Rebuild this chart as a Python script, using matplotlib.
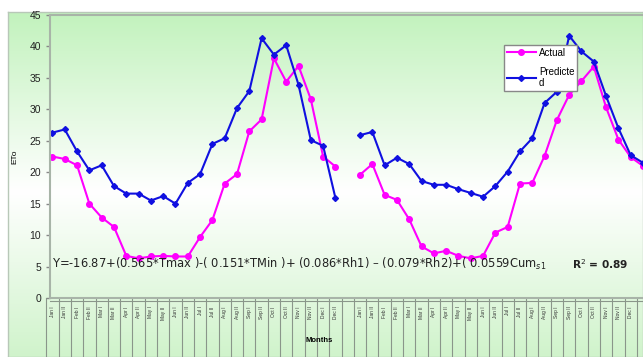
import numpy as np
import matplotlib.pyplot as plt
import matplotlib.transforms as mtransforms

plt.rcParams['font.family'] = ['Liberation Sans', 'DejaVu Sans']

# fortnightly categories, two series blocks separated by one empty slot
months = ['Jan', 'Feb', 'Mar', 'Apr', 'May', 'Jun',
          'Jul', 'Aug', 'Sep', 'Oct', 'Nov', 'Dec']
halves = ['I', 'II']

actual_1 = [22.5, 22.1, 21.1, 15.0, 12.8, 11.3, 6.7, 6.3, 6.6, 6.7, 6.6, 6.6,
            9.7, 12.4, 18.2, 19.7, 26.5, 28.4, 38.1, 34.4, 36.9, 31.6, 22.5, 20.9]
pred_1 = [26.3, 26.8, 23.3, 20.3, 21.1, 17.8, 16.6, 16.6, 15.5, 16.2, 15.0, 18.3,
          19.7, 24.5, 25.4, 30.2, 32.9, 41.3, 38.7, 40.2, 33.9, 25.1, 24.2, 15.9]
actual_2 = [19.6, 21.3, 16.4, 15.6, 12.5, 8.2, 7.1, 7.5, 6.7, 6.3, 6.7, 10.4,
            11.3, 18.2, 18.3, 22.6, 28.3, 32.3, 34.5, 36.8, 30.3, 25.2, 22.4, 21.0]
pred_2 = [25.9, 26.4, 21.1, 22.3, 21.3, 18.6, 18.0, 18.0, 17.3, 16.7, 16.1, 17.8,
          20.1, 23.3, 25.4, 31.0, 32.8, 41.7, 39.2, 37.6, 32.1, 27.0, 22.7, 21.5]

equation = ('Y=-16.87+(0.565*Tmax )-( 0.151*TMin )+ (0.086*Rh1) \u2013 '
            '(0.079*Rh2)+( 0.0559Cum$_{s1}$')
r2_text = 'R$^2$ = 0.89'

labels = [f'{m} {h}' for m in months for h in halves]
x1 = np.arange(len(actual_1))
x2 = np.arange(len(actual_2)) + len(actual_1) + 1

W, H = 643, 357
fig = plt.figure(figsize=(W / 100, H / 100), dpi=100)

# background: chart area with green-white-green gradient
bg = fig.add_axes([8 / W, 0, 1 - 8 / W, (H - 12) / H], zorder=0)
rows = np.linspace(0, 1, 300)
top = np.array([0.76, 0.95, 0.74])
bot = np.array([0.80, 0.95, 0.78])
wt = np.clip(np.abs(rows - 0.52) / 0.52, 0, 1)[:, None]
grad = np.where(rows[:, None] < 0.52, 1 - wt * (1 - top), 1 - wt * (1 - bot))
bg.imshow(grad[:, None, :], aspect='auto', extent=[0, 1, 0, 1])
bg.set_xticks([])
bg.set_yticks([])
for s in bg.spines.values():
    s.set_color('#b8c8b8')
    s.set_linewidth(1)

ax = fig.add_axes([50 / W, (H - 298) / H, (W - 50) / W, (298 - 15) / H], zorder=2)
ax.set_facecolor('none')

pink = '#ff00ff'
blue = '#1010e0'
ax.plot(x1, actual_1, color=pink, lw=1.5, marker='o', ms=4, label='Actual')
ax.plot(x1, pred_1, color=blue, lw=1.5, marker='D', ms=3, label='Predicte\nd')
ax.plot(x2, actual_2, color=pink, lw=1.5, marker='o', ms=4)
ax.plot(x2, pred_2, color=blue, lw=1.5, marker='D', ms=3)

ax.set_ylim(0, 45)
ax.set_yticks(np.arange(0, 46, 5))
ax.set_xlim(-0.2, 48.0)
ax.tick_params(axis='y', labelsize=7.5, colors='#888888', labelcolor='#222222',
               length=3, width=1)
ax.set_ylabel('ETo', fontsize=6, labelpad=8)

for side in ['top', 'left', 'bottom']:
    ax.spines[side].set_color('#a8b4a8')
    ax.spines[side].set_linewidth(1.5)
ax.spines['right'].set_visible(False)

# category axis: tiny rotated labels and separators below the plot
ax.set_xticks(list(x1) + list(x2))
ax.set_xticklabels(labels + labels, rotation=90, fontsize=3.5, color='#333333')
ax.tick_params(axis='x', length=0, pad=6)
ax.get_xticklabels()[-1].set_visible(False)
trans = mtransforms.blended_transform_factory(ax.transData, ax.transAxes)
for b in np.arange(-0.5, 49, 1.0):
    ax.plot([b, b], [0, -0.22], transform=trans, color='#8a968a', lw=0.8,
            clip_on=False)
ax.plot([-0.2, 48], [-0.012, -0.012], transform=trans, color='#8a968a', lw=0.8,
        clip_on=False)
ax.text(21.7, -0.15, 'Months', transform=trans, fontsize=5.5, fontweight='bold',
        ha='center', va='center')

ax.text(0, 5.4, equation, fontsize=8.3, color='#222222', va='center',
        family='DejaVu Sans')
ax.text(42.2, 5.4, r2_text, fontsize=7.6, color='#222222', va='center',
        fontweight='bold', family='DejaVu Sans')

leg = ax.legend(loc='upper left', bbox_to_anchor=((499 - 50) / 593, (298 - 40) / 283),
                fontsize=7, frameon=True, fancybox=False, framealpha=1,
                edgecolor='#888888', handlelength=3, labelspacing=0.9,
                borderpad=0.3, handletextpad=0.3)
leg.get_frame().set_linewidth(1)

fig.savefig('out.png', dpi=100)
